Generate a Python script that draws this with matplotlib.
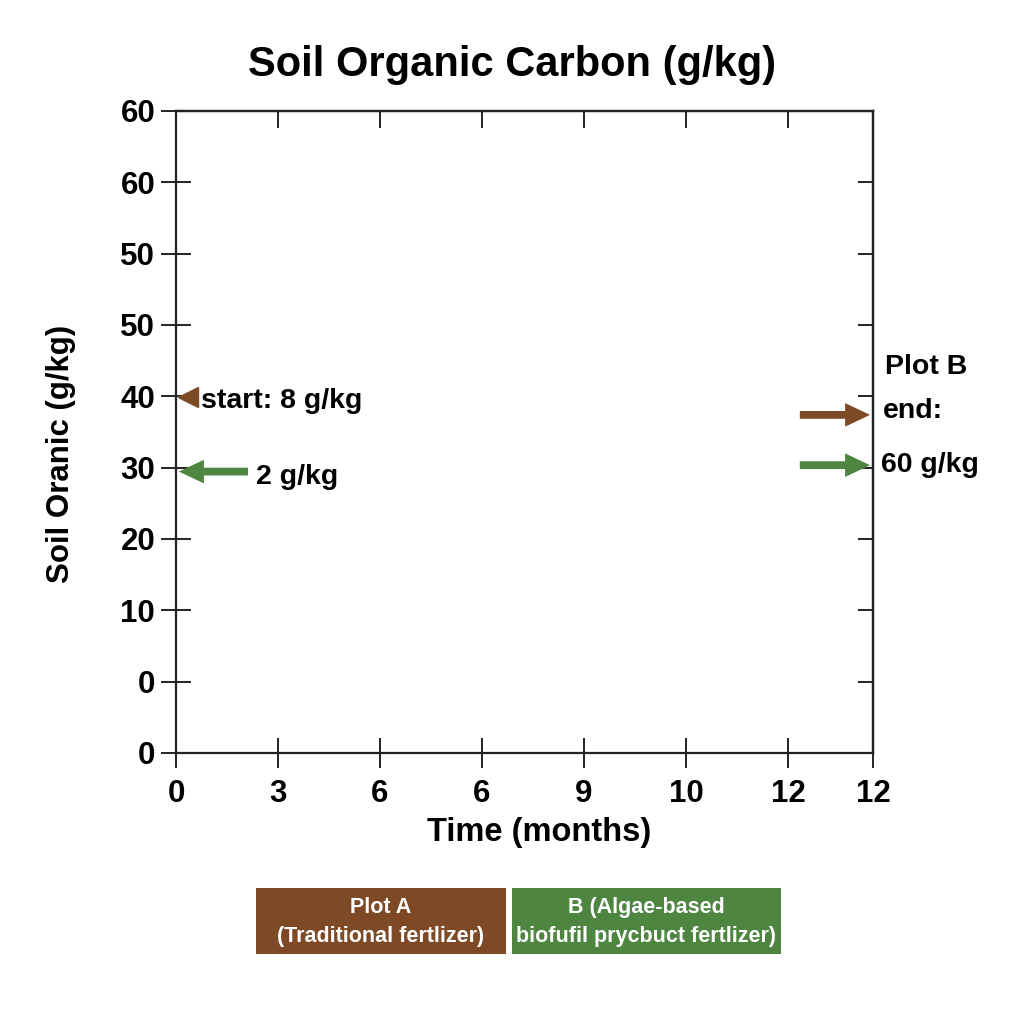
import matplotlib
matplotlib.use("Agg")
import matplotlib.pyplot as plt
from matplotlib.patches import Rectangle
import numpy as np

plt.rcParams['font.family'] = ['Liberation Sans', 'DejaVu Sans']
plt.rcParams['font.weight'] = 'bold'

# ---- data ----
title = "Soil Organic Carbon (g/kg)"
xlabel = "Time (months)"
ylabel = "Soil Oranic (g/kg)"
x_tick_labels = ["0", "3", "6", "6", "9", "10", "12", "12"]
x_tick_pos = [0, 1.756, 3.512, 5.268, 7.024, 8.78, 10.536, 12]
y_tick_labels = ["0", "0", "10", "20", "30", "40", "50", "50", "60", "60"]
y_tick_pos = list(np.linspace(0, 60, 10))

# start markers (Plot A brown, Plot B green)
start_brown_y = 33.3
start_green_y = 26.3
start_green_tail_x = 1.24
# end arrows
end_brown_y = 31.6
end_green_y = 26.9
end_tail_x = 10.74
end_head_x = 11.95

brown = "#7d4a25"
green = "#4e8541"

legend_labels = ["Plot A\n(Traditional fertlizer)",
                 "B (Algae-based\nbiofufil prycbuct fertlizer)"]

fig = plt.figure(figsize=(10.24, 10.24), dpi=100)
ax = fig.add_axes([176/1024, 1-753/1024, 697/1024, 642/1024])
ax.set_xlim(0, 12)
ax.set_ylim(0, 60)
for s in ax.spines.values():
    s.set_linewidth(1.6)
    s.set_color("#222222")

ax.set_xticks(x_tick_pos)
ax.set_xticklabels(x_tick_labels, fontsize=22.5, fontweight='bold')
ax.set_yticks(y_tick_pos)
ax.set_yticklabels(y_tick_labels, fontsize=22.5, fontweight='bold')
ax.tick_params(axis='both', direction='inout', length=22, width=1.4,
               color="#222222")
ax.tick_params(axis='x', pad=8)
ax.tick_params(axis='y', pad=4)

# inward ticks on top and right
sx = ax.secondary_xaxis('top')
sx.set_xticks(x_tick_pos)
sx.tick_params(direction='in', length=12, width=1.4, color="#222222", labeltop=False)
sx.spines['top'].set_linewidth(1.6)
sy = ax.secondary_yaxis('right')
sy.set_yticks(y_tick_pos)
sy.tick_params(direction='in', length=11, width=1.4, color="#222222", labelright=False)
sy.spines['right'].set_linewidth(1.6)

ax.set_xlabel(xlabel, fontsize=23.5, fontweight='bold')
ax.xaxis.set_label_coords(0.521, -0.1)
ax.set_ylabel(ylabel, fontsize=22.5, fontweight='bold')
ax.yaxis.set_label_coords(-0.144, 0.466)
fig.text(0.5, 1-65/1024, title, ha='center', va='center', fontsize=30, fontweight='bold')

arrow_style = 'simple,tail_width=0.28,head_width=0.85,head_length=0.9'
# start: brown triangle
ax.plot([0.2], [start_brown_y], marker='<', markersize=15, color=brown, clip_on=False)
ax.annotate("", xy=(0.05, start_green_y), xytext=(start_green_tail_x, start_green_y),
            arrowprops=dict(arrowstyle=arrow_style, color=green, mutation_scale=20, lw=0,
                            shrinkA=0, shrinkB=0))
ax.text(0.43, start_brown_y - 0.4, "start: 8 g/kg", fontsize=20.5, fontweight='bold', va='center')
ax.text(1.38, start_green_y - 0.5, "2 g/kg", fontsize=20.5, fontweight='bold', va='center')

for y, c in [(end_brown_y, brown), (end_green_y, green)]:
    ax.annotate("", xy=(end_head_x, y), xytext=(end_tail_x, y),
                arrowprops=dict(arrowstyle=arrow_style, color=c, mutation_scale=20, lw=0,
                                shrinkA=0, shrinkB=0))

ax.text(12.2, 36.1, "Plot B", fontsize=20.5, fontweight='bold', va='center', clip_on=False)
ax.text(12.17, 32.0, "end:", fontsize=20.5, fontweight='bold', va='center', clip_on=False)
ax.text(12.14, 26.9, "60 g/kg", fontsize=20.5, fontweight='bold', va='center', clip_on=False)

# legend boxes
boxes = [(256, 506, brown), (512, 781, green)]
for (x0, x1, c), lab in zip(boxes, legend_labels):
    fig.patches.append(Rectangle((x0/1024, 1-954/1024), (x1-x0)/1024, 66/1024,
                                 transform=fig.transFigure, facecolor=c, edgecolor='none'))
    fig.text((x0+x1)/2/1024, 1-922/1024, lab, ha='center', va='center', color='white',
             fontsize=15.5, fontweight='bold', linespacing=1.45)

fig.savefig("out.png", dpi=100)
